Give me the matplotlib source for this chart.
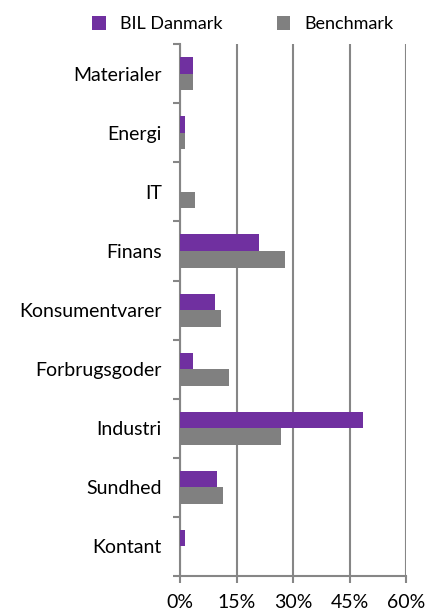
import matplotlib
matplotlib.use('Agg')
import matplotlib.pyplot as plt
import numpy as np

categories = ['Materialer', 'Energi', 'IT', 'Finans', 'Konsumentvarer',
              'Forbrugsgoder', 'Industri', 'Sundhed', 'Kontant']
bil = [3.5, 1.3, 0.0, 21.0, 9.3, 3.5, 48.7, 9.9, 1.3]
bench = [3.5, 1.3, 4.0, 28.0, 11.0, 13.0, 26.8, 11.5, 0.0]
xticks = [0, 15, 30, 45, 60]

plt.rcParams['font.family'] = ['Lato', 'DejaVu Sans']
purple = '#7030A0'
grey = '#808080'
axis_col = '#868686'

fig = plt.figure(figsize=(4.3, 6.13), dpi=100)
ax = fig.add_axes([0.4186, 0.0604, 0.5256, 0.8676])

y = np.arange(len(categories))
h = 0.28
ax.barh(y - h / 2, bil, height=h, color=purple, label='BIL Danmark', zorder=3)
ax.barh(y + h / 2, bench, height=h, color=grey, label='Benchmark', zorder=3)

ax.set_xlim(0, 60)
ax.set_ylim(len(categories) - 0.5, -0.5)
ax.set_xticks(xticks)
ax.set_xticklabels([f'{t}%' for t in xticks], fontsize=14)
ax.set_yticks(y)
ax.set_yticklabels(categories, fontsize=14)
ax.set_yticks(np.arange(-0.5, len(categories), 1), minor=True)
ax.tick_params(axis='y', which='major', length=0, pad=13)
ax.tick_params(axis='y', which='minor', length=5, width=1.5, color=axis_col, direction='out')
ax.tick_params(axis='x', length=5, width=1.5, color=axis_col, pad=8)

ax.grid(axis='x', color=axis_col, linewidth=1.5, zorder=0)
for s in ['top', 'right']:
    ax.spines[s].set_visible(False)
for s in ['left', 'bottom']:
    ax.spines[s].set_color(axis_col)
    ax.spines[s].set_linewidth(1.5)

fig.legend(loc='upper center', bbox_to_anchor=(0.565, 1.0), ncol=2, frameon=False,
           fontsize=13, handlelength=0.75, handleheight=0.75, columnspacing=3.0,
           handletextpad=0.8)

fig.savefig('out.png', dpi=100)
